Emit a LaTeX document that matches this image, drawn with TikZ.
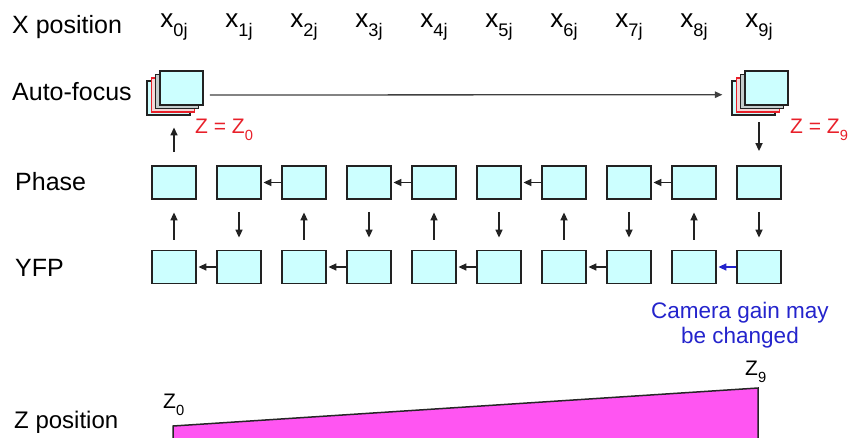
\documentclass[tikz,border=0pt]{standalone}
\usepackage{fontspec}
\setmainfont{Liberation Sans}
\usetikzlibrary{arrows.meta}
\definecolor{cellcyan}{HTML}{CCFFFF}
\definecolor{cellline}{HTML}{222222}
\definecolor{zred}{HTML}{E8202A}
\definecolor{noteblue}{HTML}{2424CC}
\definecolor{zmagenta}{HTML}{FF55F2}
\definecolor{layergray}{HTML}{C4CCCC}
\definecolor{layerpink}{HTML}{F4D8D8}
% lowered, smaller index such as the "0j" of x_{0j}
\newcommand\lowsub[1]{\raisebox{-0.35em}{\scalebox{0.7}{#1}}}

\begin{document}
\begin{tikzpicture}[x=1pt,y=-1pt,
  cell/.style={draw=cellline, fill=cellcyan, line width=1.8pt,
    minimum width=44pt, minimum height=33pt, inner sep=0pt},
  layer/.style={cell, minimum width=43pt, minimum height=34pt, line width=1.5pt},
  flow/.style={line width=1.6pt, draw=cellline, -{Triangle[length=8pt,width=7pt]}},
  rowlabel/.style={font=\fontsize{25}{30}\selectfont, anchor=base west, inner sep=0pt},
  xlabel/.style={font=\fontsize{26}{30}\selectfont, anchor=base, inner sep=0pt},
  zlabel/.style={font=\fontsize{21}{25}\selectfont, text=zred, anchor=base west, inner sep=0pt},
  zmark/.style={font=\fontsize{21}{25}\selectfont, anchor=base west, inner sep=0pt}]

\useasboundingbox (0,0) rectangle (851,437);

% row titles
\node[rowlabel] (tx) at (12,33) {X position};
\node[rowlabel] (taf) at (12,100) {Auto-focus};
\node[rowlabel] (tph) at (15,190) {Phase};
\node[rowlabel] (tyfp) at (15,276) {YFP};
\node[rowlabel, font=\fontsize{24}{30}\selectfont] (tz) at (14,428) {Z position};

% image cells and x positions
\foreach \i in {0,...,9} {
  \node[cell] (P\i) at (174+65*\i,182.5) {};
  \node[cell] (Y\i) at (174+65*\i,267) {};
  \node[xlabel] (X\i) at (174+65*\i,27) {x\lowsub{\i j}};
}

% auto-focus z-stacks
\foreach \c/\n in {174/0,759/9} {
  \node[layer, fill=cellcyan] (A\n c) at (\c-5.4,98.2) {};
  \node[layer, draw=zred, fill=layerpink] (A\n b) at (\c-1.1,94.8) {};
  \node[layer, fill=layergray] (A\n a) at (\c+3.2,91.4) {};
  \node[layer] (A\n) at (\c+7.5,88) {};
}

% stack to stack
\draw[line width=1.3pt, draw=black!75, -{Triangle[length=7.5pt,width=6.5pt]}]
  ([xshift=6pt,yshift=-7pt]A0.east) -- ([xshift=-9pt,yshift=3.5pt]A9c.west);
\draw[flow, shorten <=13pt, shorten >=11.5pt] (P0.north) -- (P0.north |- A0c.south);
\draw[flow, shorten <=6.5pt, shorten >=14pt] (P9.north |- A9c.south) -- (P9.north);

% between phase and YFP rows
\foreach \i in {0,2,4,6,8}
  \draw[flow, shorten <=10pt, shorten >=12.5pt] (Y\i.north) -- (P\i.south);
\foreach \i in {1,3,5,7,9}
  \draw[flow, shorten <=12pt, shorten >=12pt] (P\i.south) -- (Y\i.north);

% along the rows
\foreach \a/\b in {2/1,4/3,6/5,8/7}
  \draw[flow, shorten >=1.5pt] (P\a.west) -- (P\b.east);
\foreach \a/\b in {1/0,3/2,5/4,7/6}
  \draw[flow, shorten >=1.5pt] (Y\a.west) -- (Y\b.east);
\draw[flow, draw=noteblue, fill=noteblue, shorten >=1.5pt] (Y9.west) -- (Y8.east);

% focus labels
\node[zlabel] (zf0) at (195,133) {Z = Z\lowsub{0}};
\node[zlabel] (zf9) at (790,133) {Z = Z\lowsub{9}};

% note on the gain (anchored on its last line)
\node[font=\fontsize{22.5}{25}\selectfont, text=noteblue, align=center, anchor=base, inner sep=0pt]
  (note) at (740,343) {Camera gain may\\be changed};

% z ramp
\filldraw[fill=zmagenta, draw=black!85, line width=1.5pt]
  (173,441) -- (173,426) -- (758,388) -- (758,441) -- cycle;
\node[zmark] (zm0) at (163,408) {Z\lowsub{0}};
\node[zmark] (zm9) at (745,375) {Z\lowsub{9}};
\end{tikzpicture}
\end{document}
